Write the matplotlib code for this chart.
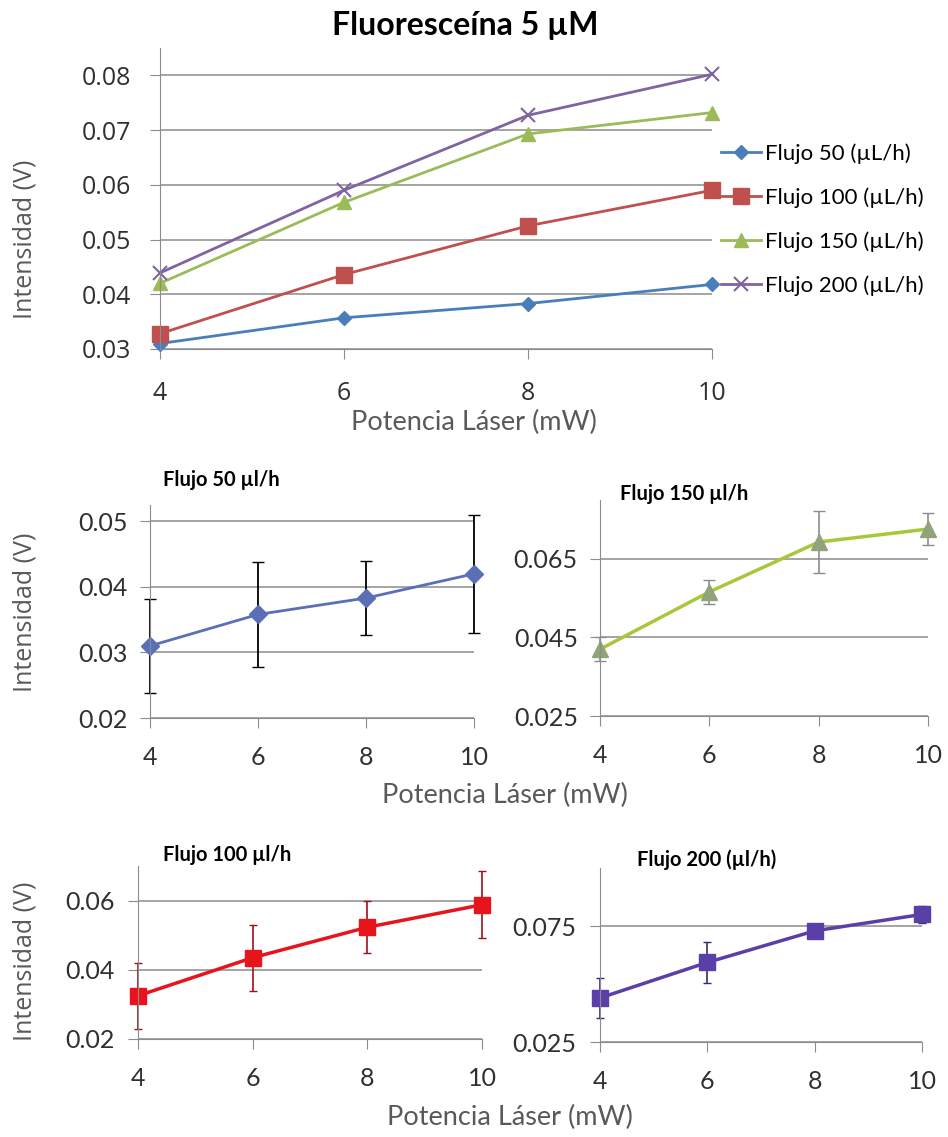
import numpy as np
import matplotlib
matplotlib.use("Agg")
from matplotlib import pyplot as plt

# data
potencia = [4, 6, 8, 10]

flujo50 = [0.0310, 0.0357, 0.0383, 0.0418]
flujo100 = [0.0328, 0.0436, 0.0525, 0.0590]
flujo150 = [0.0420, 0.0568, 0.0693, 0.0732]
flujo200 = [0.0439, 0.0590, 0.0727, 0.0802]

# small panels (same runs, with error bars)
p50 = [0.0310, 0.0358, 0.0383, 0.0420]
e50 = [0.0072, 0.0080, 0.0056, 0.0090]
p150 = [0.0420, 0.0566, 0.0693, 0.0726]
e150 = [0.0030, 0.0030, 0.0078, 0.0040]
p100 = [0.0325, 0.0435, 0.0523, 0.0588]
e100 = [0.0095, 0.0095, 0.0075, 0.0097]
p200 = [0.0440, 0.0593, 0.0729, 0.0800]
e200 = [0.0087, 0.0090, 0.0030, 0.0035]

series_names = ["Flujo 50 (\u00b5L/h)", "Flujo 100 (\u00b5L/h)",
                "Flujo 150 (\u00b5L/h)", "Flujo 200 (\u00b5L/h)"]

NARROW = "Lato"
ROUND = "Open Sans"
GRID = "#8c8c8c"
AXC = "#8c8c8c"
LBL = "#595959"
TXT = "#303030"

plt.rcParams['font.family'] = [NARROW, 'DejaVu Sans']

W, H = 948, 1137
fig = plt.figure(figsize=(W / 100, H / 100), dpi=100)


def px(x, y):
    return x / W, 1 - y / H


def style_axes(ax, ylim, yticks, ylabels, tfont, tsize, xpad, ypad):
    ax.set_xlim(4, 10)
    ax.set_ylim(*ylim)
    ax.set_xticks(potencia)
    ax.set_yticks(yticks)
    ax.set_yticklabels(ylabels)
    for s in ["top", "right"]:
        ax.spines[s].set_visible(False)
    ax.spines["left"].set_color(AXC)
    ax.spines["bottom"].set_color(AXC)
    ax.tick_params(colors=AXC, labelcolor=TXT, labelsize=tsize,
                   direction="out", length=7)
    ax.tick_params(axis="x", pad=xpad)
    ax.tick_params(axis="y", pad=ypad)
    ax.grid(axis="y", color=GRID, lw=1.1)
    ax.set_axisbelow(True)
    for t in ax.get_xticklabels() + ax.get_yticklabels():
        t.set_fontfamily(tfont)


def noclip(container):
    for a in container.get_children():
        a.set_clip_on(False)


def ylabel(x, y):
    fig.text(*px(x, y), "Intensidad (V)", rotation=90, ha="center", va="center",
             fontsize=18, color=LBL, family=ROUND)


def xlabel(x, y):
    fig.text(*px(x, y), "Potencia L\u00e1ser (mW)", ha="center", va="center",
             fontsize=19.5, color=LBL, family=NARROW)


# ---- big chart
ax = fig.add_axes([160 / W, 1 - 349 / H, 552 / W, 301 / H])
l1, = ax.plot(potencia, flujo50, color="#4A7EBB", marker="D", ms=7, lw=2, label=series_names[0])
l2, = ax.plot(potencia, flujo100, color="#C0504D", marker="s", ms=12, lw=2, label=series_names[1])
l3, = ax.plot(potencia, flujo150, color="#9BBB59", marker="^", ms=10, lw=2, label=series_names[2])
l4, = ax.plot(potencia, flujo200, color="#8064A2", marker="x", ms=10, mew=1.5, lw=2, label=series_names[3])
for l in (l1, l2, l3, l4):
    l.set_clip_on(False)
style_axes(ax, (0.03, 0.085), [0.03, 0.04, 0.05, 0.06, 0.07, 0.08],
           ["0.03", "0.04", "0.05", "0.06", "0.07", "0.08"], ROUND, 18, 16, 14)
fig.text(*px(465, 25), "Fluoresce\u00edna 5 \u00b5M", fontsize=23, fontweight="bold",
         ha="center", va="center")
xlabel(474, 422)
ylabel(25, 239)
fig.legend(handles=[l1, l2, l3, l4], loc="center left", bbox_to_anchor=px(721, 219.5),
           frameon=False, fontsize=16, handlelength=1.8, handletextpad=0.2,
           labelspacing=1.05, borderpad=0, borderaxespad=0)

# ---- Flujo 50
ax1 = fig.add_axes([150 / W, 1 - 718 / H, 324 / W, 213 / H])
c = ax1.errorbar(potencia, p50, yerr=e50, color="#5A6FB5", marker="D", ms=9, lw=2,
                 ecolor="black", elinewidth=1.3, capsize=4)
noclip(c)
style_axes(ax1, (0.02, 0.0525), [0.02, 0.03, 0.04, 0.05],
           ["0.02", "0.03", "0.04", "0.05"], NARROW, 18, 13, 9)
fig.text(*px(163, 480), "Flujo 50 \u00b5l/h", fontsize=14.5, fontweight="bold", ha="left", va="center")
ylabel(25, 612)

# ---- Flujo 150
ax2 = fig.add_axes([600 / W, 1 - 716 / H, 328 / W, 216 / H])
c = ax2.errorbar(potencia, p150, yerr=e150, color="#A8C83A", marker="^", ms=11, lw=2.5,
                 mfc="#8FA47A", mec="#8FA47A", ecolor="#8c8c8c", elinewidth=1.2, capsize=4)
noclip(c)
style_axes(ax2, (0.025, 0.08), [0.025, 0.045, 0.065],
           ["0.025", "0.045", "0.065"], NARROW, 18, 13, 9)
fig.text(*px(620, 494), "Flujo 150 \u00b5l/h", fontsize=14.5, fontweight="bold", ha="left", va="center")
xlabel(505, 795)

# ---- Flujo 100
ax3 = fig.add_axes([138 / W, 1 - 1039 / H, 344 / W, 173 / H])
c = ax3.errorbar(potencia, p100, yerr=e100, color="#E8141B", marker="s", ms=11, lw=2.5,
                 ecolor="#A01018", elinewidth=1.2, capsize=3)
noclip(c)
style_axes(ax3, (0.02, 0.07), [0.02, 0.04, 0.06],
           ["0.02", "0.04", "0.06"], NARROW, 18, 13, 10)
fig.text(*px(163, 855), "Flujo 100 \u00b5l/h", fontsize=14.5, fontweight="bold", ha="left", va="center")
ylabel(25, 961)

# ---- Flujo 200
ax4 = fig.add_axes([600 / W, 1 - 1042 / H, 322 / W, 174 / H])
c = ax4.errorbar(potencia, p200, yerr=e200, color="#5B3FA8", marker="s", ms=11, lw=2.5,
                 ecolor="#3a2a70", elinewidth=1.2, capsize=3)
noclip(c)
style_axes(ax4, (0.025, 0.1), [0.025, 0.075],
           ["0.025", "0.075"], NARROW, 18, 13, 10)
fig.text(*px(637, 860), "Flujo 200 (\u00b5l/h)", fontsize=14.5, fontweight="bold", ha="left", va="center")
xlabel(510, 1117)

fig.savefig("out.png", dpi=100)
